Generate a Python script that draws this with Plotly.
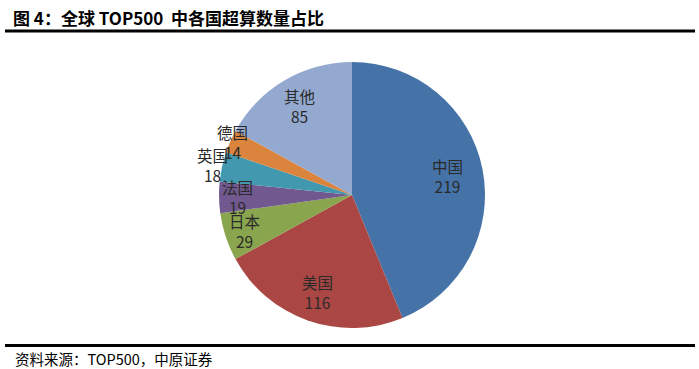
import math
import plotly.graph_objects as go

countries = ["中国", "美国", "日本", "法国", "英国", "德国", "其他"]
counts = [219, 116, 29, 19, 18, 14, 85]
colors = ["#4572A7", "#AA4643", "#89A54E", "#71588F", "#4198AF", "#DB843D", "#93A9CF"]
label_radius = [0.73, 0.77, 0.85, 0.86, 1.07, 0.98, 0.78]

W, H = 699, 369
cx, cy, R = 352, 195, 133

fig = go.Figure()
fig.add_trace(go.Pie(
    labels=countries, values=counts, sort=False, direction="clockwise", rotation=0,
    marker=dict(colors=colors, line=dict(width=0)),
    textinfo="none", hoverinfo="label+value", showlegend=False,
    domain=dict(x=[(cx - R) / W, (cx + R) / W], y=[(H - cy - R) / H, (H - cy + R) / H]),
))

total = sum(counts)
cum = 0
annotations = []
for name, v, f in zip(countries, counts, label_radius):
    mid = (cum + v / 2) / total * 2 * math.pi
    cum += v
    px = cx + f * R * math.sin(mid)
    py = cy - f * R * math.cos(mid)
    annotations.append(dict(
        x=px / W, y=1 - py / H, xref="paper", yref="paper",
        xanchor="center", yanchor="middle",
        text=f"{name}<br>{v}", showarrow=False, align="center",
        font=dict(family="Noto Sans CJK SC", size=15.5, color="#2a2a2a"),
    ))

annotations.append(dict(
    x=11 / W, y=1 - 17 / H, xref="paper", yref="paper", xanchor="left", yanchor="middle",
    text="<b>图 4：全球 TOP500  中各国超算数量占比</b>", showarrow=False,
    font=dict(family="Noto Sans CJK SC", size=17, color="#000000"),
))
annotations.append(dict(
    x=13 / W, y=1 - 358 / H, xref="paper", yref="paper", xanchor="left", yanchor="middle",
    text="资料来源：TOP500，中原证券", showarrow=False,
    font=dict(family="Noto Sans CJK SC", size=14.5, color="#000000"),
))

shapes = [
    dict(type="line", xref="paper", yref="paper", x0=5 / W, x1=695 / W,
         y0=1 - 31 / H, y1=1 - 31 / H, line=dict(color="black", width=3)),
    dict(type="line", xref="paper", yref="paper", x0=5 / W, x1=695 / W,
         y0=1 - 345.5 / H, y1=1 - 345.5 / H, line=dict(color="black", width=3)),
]

fig.update_layout(
    width=W, height=H, margin=dict(l=0, r=0, t=0, b=0),
    paper_bgcolor="white", plot_bgcolor="white",
    annotations=annotations, shapes=shapes,
)
fig.write_html("out.html")
